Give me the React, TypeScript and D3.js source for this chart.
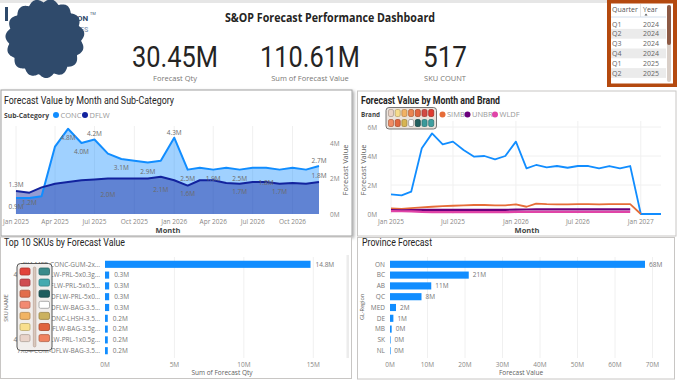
import React from "react";
import * as d3 from "d3";

const BLUE = "#118DFF";
const NAVY = "#12239E";
const DIN = "Roboto, 'DejaVu Sans', sans-serif";
const UI = "'Open Sans', 'Noto Sans', sans-serif";
const AXIS = "#8a8886";
const TITLE = "#252423";

// ---------- data ----------
const dashboardTitle = "S&OP Forecast Performance Dashboard";
const kpiValues = ["30.45M", "110.61M", "517"];
const kpiLabels = ["Forecast Qty", "Sum of Forecast Value", "SKU COUNT"];

const slicerQuarters = ["Q1", "Q2", "Q3", "Q4", "Q1", "Q2"];
const slicerYears = ["2024", "2024", "2024", "2024", "2025", "2025"];

const subCategories = ["CONC", "DFLW"];
const concValues = [0.9, 0.9, 1.0, 3.8, 4.8, 4.0, 4.2, 3.4, 3.1, 3.0, 2.9, 3.0, 4.3, 2.5, 2.6, 2.5, 2.6, 2.5, 2.6, 2.6, 2.5, 2.6, 2.5, 2.7];
const dflwValues = [1.3, 1.2, 1.5, 1.7, 1.8, 1.9, 1.95, 2.0, 2.0, 2.0, 2.0, 2.1, 1.9, 1.6, 1.9, 1.9, 1.75, 1.7, 1.8, 1.8, 1.7, 1.75, 1.7, 1.8];
// which points carry a data label, and on which side
const concLabels = [
  { i: 0, dy: 11 }, { i: 4, dy: 11 }, { i: 5, dy: 11 }, { i: 6, dy: -3 }, { i: 8, dy: 11 },
  { i: 10, dy: 11 }, { i: 12, dy: -3 }, { i: 13, dy: 11 }, { i: 17, dy: 11 }, { i: 23, dy: -3 },
];
const dflwLabels = [
  { i: 0, dy: -4 }, { i: 1, dy: 12 }, { i: 7, dy: 18 }, { i: 11, dy: 15 }, { i: 13, dy: 10 },
  { i: 15, dy: 1 }, { i: 17, dy: 10 }, { i: 19, dy: 3 }, { i: 20, dy: 10 }, { i: 23, dy: -4 },
];

const brandNames = ["SIMB", "UNBR", "WLDF"];
const brandColors = ["#E66C37", "#6B007B", "#E044A7"];
const brandMain = [1.36, 1.29, 1.54, 4.53, 5.56, 4.8, 4.99, 4.41, 3.95, 4.0, 3.77, 4.0, 4.99, 3.15, 3.38, 3.22, 3.31, 3.19, 3.31, 3.31, 3.15, 3.31, 3.15, 3.31, 0, 0, 0];
const brandSIMB = [0.38, 0.36, 0.4, 0.45, 0.5, 0.55, 0.57, 0.6, 0.62, 0.62, 0.6, 0.6, 0.66, 0.5, 0.72, 0.68, 0.67, 0.67, 0.68, 0.68, 0.67, 0.68, 0.68, 0.68, 0, null, null];
const brandUNBR = [0.27, 0.26, 0.27, 0.28, 0.28, 0.28, 0.28, 0.29, 0.29, 0.29, 0.29, 0.29, 0.3, 0.31, 0.32, 0.32, 0.32, 0.32, 0.32, 0.32, 0.32, 0.32, 0.32, 0.32, null, null, null];
const brandWLDF = [0.2, 0.19, 0.18, 0.14, 0.13, 0.13, 0.13, 0.13, 0.13, 0.13, 0.13, 0.13, 0.14, 0.15, 0.15, 0.15, 0.15, 0.15, 0.15, 0.15, 0.15, 0.15, 0.15, 0.15, null, null, null];

const skuNames = [
  "4X4-MFR-CONC-GUM-2x...", "4X4-MFR-DFLW-PRL-5x0.3g...", "4X4-MFR-DFLW-PRL-5x0.5...",
  "4X4-MFR-DFLW-PRL-5x0...", "4X4-MFR-DFLW-BAG-3.5...", "4X4-MFR-CONC-LHSH-3.5...",
  "4X4-MFR-DFLW-BAG-3.5g...", "4X4-MFR-DFLW-PRL-1x0.5g...", "7X04-COM-DFLW-BAG-3.5...",
];
const skuQty = [14.8, 0.3, 0.3, 0.3, 0.3, 0.2, 0.2, 0.2, 0.2];
const skuTicks = [0, 5, 10, 15];

const provinces = ["ON", "BC", "AB", "QC", "MED", "DE", "MB", "SK", "NL"];
const provinceValues = [68, 21, 11, 8.4, 1.6, 0.9, 0.45, 0.12, 0.08];
const provinceTicks = [0, 10, 20, 30, 40, 50, 60, 70];

const paletteRow1 = ["#e9d2c4", "#f6dc8c", "#f2b265", "#ea8450", "#e2653f", "#d24a43", "#e03a2f"];
const paletteRow2 = ["#f08c64", "#e2673f", "#d7b552", "#ffffff", "#22605f", "#3b9a9b", "#3f9fa0"];
const paletteColL = ["#e2433a", "#cf4c52", "#e26e4c", "#f28a72", "#f1b464", "#f8df8e", "#e9d3c9"];
const paletteColR = ["#3a8a8a", "#44aab0", "#1e5d5e", "#ffffff", "#cbb15e", "#e0643f", "#f08360"];

// ---------- helpers ----------
const fmtM = (v: number) => d3.format(".1f")(v) + "M";

function Panel({ x, y, w, h, shadow }: any) {
  return (
    <rect x={x} y={y} width={w} height={h} fill="#fff" stroke={shadow ? "#a0a0a0" : "#c8c6c4"} strokeWidth={1}
      filter={shadow ? "url(#sh)" : undefined} />
  );
}

function Swatch({ x, y, w, h, c }: any) {
  const border = c === "#ffffff" ? "#999" : (d3.color(c) as any).darker(0.8).formatHex();
  return <rect x={x} y={y} width={w} height={h} rx={1.5} fill={c} stroke={border} strokeWidth={0.8} />;
}

export default function App() {
  // ---------- header ----------
  const blobPts = d3.range(0, Math.PI * 2, Math.PI / 160);
  const blob = d3
    .lineRadial<number>()
    .angle((a) => a)
    .radius((a) => 36 + 3.6 * Math.abs(Math.sin(7.5 * a + 0.3)))
    .curve(d3.curveLinearClosed)(blobPts) as string;
  const kpiX = [175, 310, 445];
  const kpiW = [86, 100, 44];

  // ---------- left chart ----------
  const monthsL = d3.timeMonth.range(new Date(2025, 0, 1), new Date(2027, 0, 1));
  const xL = d3.scaleTime().domain([monthsL[0], monthsL[monthsL.length - 1]]).range([16, 319]);
  const yL = d3.scaleLinear().domain([0, 5]).range([214, 125.25]);
  const areaL = d3.area<number>().x((_, i) => xL(monthsL[i])).y0(yL(0)).y1((d) => yL(d));
  const lineL = d3.line<number>().x((_, i) => xL(monthsL[i])).y((d) => yL(d));
  const ticksL = xL.ticks(d3.timeMonth.every(3) as any);
  const fmtMonth = d3.timeFormat("%b %Y");

  // ---------- right chart ----------
  const monthsR = d3.timeMonth.range(new Date(2025, 0, 1), new Date(2027, 3, 1));
  const xR = d3.scaleTime().domain([monthsR[0], monthsR[monthsR.length - 1]]).range([391, 661]);
  const yR = d3.scaleLinear().domain([0, 6.5]).range([214, 119.75]);
  const lineR = d3
    .line<number | null>()
    .defined((d) => d !== null)
    .x((_, i) => xR(monthsR[i]))
    .y((d) => yR(d as number));
  const ticksR = xR.ticks(d3.timeMonth.every(6) as any);
  const brandSeries = [brandSIMB, brandUNBR, brandWLDF];

  // ---------- bottom-left ----------
  const ySku = d3.scaleBand<string>().domain(skuNames).range([258.9, 356.1]).paddingInner(0.34).paddingOuter(0.17);
  const xSku = d3.scaleLinear().domain([0, 15]).range([105, 313.3]);

  // ---------- bottom-right ----------
  const yProv = d3.scaleBand<string>().domain(provinces).range([258.9, 356.1]).paddingInner(0.34).paddingOuter(0.17);
  const xProv = d3.scaleLinear().domain([0, 70]).range([390, 652.5]);

  return (
    <div style={{ position: "fixed", left: 0, top: 0, width: 680, height: 380, background: "#fff" }}>
      <svg width={680} height={380} viewBox="0 0 680 380" style={{ display: "block" }}>
        <defs>
          <filter id="sh" x="-5%" y="-5%" width="110%" height="115%">
            <feDropShadow dx="1.5" dy="1.5" stdDeviation="1.5" floodColor="#000" floodOpacity="0.35" />
          </filter>
        </defs>
        <rect x={0} y={0} width={680} height={380} fill="#fff" />
        <rect x={0} y={0} width={607} height={3} fill="#e6e6e6" />

        {/* logo */}
        <rect x={5} y={7} width={3} height={14} fill="#2f4a6b" />
        <text x={77} y={21} fontFamily={DIN} fontWeight={700} fontSize={8} fill="#2f4a6b">ON</text>
        <text x={90} y={15} fontFamily={UI} fontSize={4} fill="#2f4a6b">TM</text>
        <text x={80} y={32} fontFamily={DIN} fontWeight={700} fontSize={7} fill="#8ea3bb">ES</text>
        <path d={blob} transform="translate(45,38.5)" fill="#2f4a6b" />

        {/* title & KPIs */}
        <text x={330} y={22} textAnchor="middle" fontFamily={UI} fontWeight={700} fontSize={12} fill={TITLE}
          textLength={210} lengthAdjust="spacingAndGlyphs">{dashboardTitle}</text>
        {kpiValues.map((v, i) => (
          <g key={v}>
            <text x={kpiX[i]} y={67} textAnchor="middle" fontFamily={DIN} fontSize={29.5} fill="#252423"
              textLength={kpiW[i]} lengthAdjust="spacingAndGlyphs">{v}</text>
            <text x={kpiX[i]} y={80.5} textAnchor="middle" fontFamily={UI} fontSize={7.5} fill="#7a7876">{kpiLabels[i]}</text>
          </g>
        ))}

        {/* slicer */}
        <rect x={607} y={0} width={70} height={87} fill="#b4490f" />
        <rect x={611} y={3.5} width={62} height={80} fill="#fff" />
        <text x={612} y={12} fontFamily={UI} fontSize={7} fill="#555">Quarter</text>
        <text x={643} y={12} fontFamily={UI} fontSize={7} fill="#555">Year</text>
        <path d="M644.5,15.5 l1.5,-2 l1.5,2 z" fill="#555" />
        <line x1={640.5} y1={4} x2={640.5} y2={17} stroke="#ddd" strokeWidth={0.8} />
        <line x1={611} y1={17} x2={666} y2={17} stroke="#c8d6e6" strokeWidth={0.8} />
        {slicerQuarters.map((q, i) => {
          const cy = 24 + i * 9.8;
          return (
            <g key={i}>
              {i % 2 === 1 && <rect x={611} y={cy - 4.9} width={55} height={9.8} fill="#ebebeb" />}
              <text x={612} y={cy + 2.6} fontFamily={UI} fontSize={7} fill="#666">{q}</text>
              <text x={643} y={cy + 2.6} fontFamily={UI} fontSize={7} fill="#666">{slicerYears[i]}</text>
            </g>
          );
        })}
        <rect x={667} y={5} width={4} height={77} rx={2} fill="#d9cfc8" />
        <rect x={667} y={5} width={4} height={40} rx={2} fill="#8d5a45" />

        {/* ---------- panels ---------- */}
        <Panel x={1} y={90} w={351} h={146} shadow />
        <Panel x={357.5} y={91} w={318.5} h={145} />
        <Panel x={0.5} y={237} w={351} h={141.5} />
        <Panel x={357.5} y={237.5} w={317} h={141.5} />

        {/* ---------- left chart ---------- */}
        <text x={4} y={104} fontFamily={DIN} fontSize={10.5} fill={TITLE} textLength={170} lengthAdjust="spacingAndGlyphs">
          Forecast Value by Month and Sub-Category
        </text>
        <text x={4} y={117.5} fontFamily={UI} fontWeight={700} fontSize={7.5} fill="#444" textLength={45} lengthAdjust="spacingAndGlyphs">Sub-Category</text>
        {subCategories.map((s, i) => (
          <g key={s}>
            <circle cx={[56, 85][i]} cy={115} r={3} fill={[BLUE, NAVY][i]} />
            <text x={[60.5, 89.5][i]} y={117.5} fontFamily={UI} fontSize={7.5} fill="#999">{s}</text>
          </g>
        ))}
        {ticksL.map((t) => (
          <g key={+t}>
            <line x1={xL(t)} x2={xL(t)} y1={126} y2={214} stroke="#f0f0f0" strokeWidth={1} />
            <text x={xL(t)} y={223.5} textAnchor="middle" fontFamily={UI} fontSize={6.5} fill={AXIS}>{fmtMonth(t)}</text>
          </g>
        ))}
        <path d={areaL(concValues) as string} fill={BLUE} fillOpacity={0.4} />
        <path d={areaL(dflwValues) as string} fill={NAVY} fillOpacity={0.45} />
        <path d={lineL(concValues) as string} fill="none" stroke={BLUE} strokeWidth={2} strokeLinejoin="round" />
        <path d={lineL(dflwValues) as string} fill="none" stroke={NAVY} strokeWidth={2} strokeLinejoin="round" />
        {concLabels.map((l) => (
          <text key={"c" + l.i} x={xL(monthsL[l.i])} y={yL(concValues[l.i]) + l.dy} textAnchor="middle"
            fontFamily={UI} fontSize={6.5} fill="#6b6b6b">{fmtM(concValues[l.i])}</text>
        ))}
        {dflwLabels.map((l) => (
          <text key={"d" + l.i} x={xL(monthsL[l.i])} y={yL(dflwValues[l.i]) + l.dy} textAnchor="middle"
            fontFamily={UI} fontSize={6.5} fill="#6b6b6b">{fmtM(dflwValues[l.i])}</text>
        ))}
        {[0, 2, 4].map((v) => (
          <text key={v} x={330} y={yL(v) + 2.5} fontFamily={UI} fontSize={6.5} fill={AXIS}>{v}M</text>
        ))}
        <text transform="translate(348,170) rotate(-90)" textAnchor="middle" fontFamily={UI} fontSize={7.5} fill="#605e5c">
          Forecast Value
        </text>
        <text x={168} y={232.5} textAnchor="middle" fontFamily={UI} fontWeight={700} fontSize={7.5} fill="#444">Month</text>

        {/* ---------- right chart ---------- */}
        <text x={361} y={104} fontFamily={DIN} fontWeight={700} fontSize={10.5} fill={TITLE} textLength={139} lengthAdjust="spacingAndGlyphs">
          Forecast Value by Month and Brand
        </text>
        <text x={361} y={117} fontFamily={UI} fontWeight={700} fontSize={7.5} fill="#444" textLength={19} lengthAdjust="spacingAndGlyphs">Brand</text>
        {brandNames.map((b, i) => (
          <g key={b}>
            <circle cx={[442.5, 467.5, 495][i]} cy={114.5} r={3} fill={brandColors[i]} />
            <text x={[447, 472, 499.5][i]} y={117} fontFamily={UI} fontSize={7.5} fill="#999">{b}</text>
          </g>
        ))}
        {[2, 4, 6].map((v) => (
          <line key={v} x1={391} x2={661} y1={yR(v)} y2={yR(v)} stroke="#f0f0f0" strokeWidth={1} />
        ))}
        {ticksR.map((t) => (
          <g key={+t}>
            <line x1={xR(t)} x2={xR(t)} y1={121} y2={214} stroke="#f0f0f0" strokeWidth={1} />
            <text x={xR(t)} y={223.5} textAnchor="middle" fontFamily={UI} fontSize={6.5} fill={AXIS}>{fmtMonth(t)}</text>
          </g>
        ))}
        {[0, 2, 4, 6].map((v) => (
          <text key={v} x={377} y={yR(v) + 2.5} textAnchor="end" fontFamily={UI} fontSize={6.5} fill={AXIS}>{v}M</text>
        ))}
        <text transform="translate(366,170) rotate(-90)" textAnchor="middle" fontFamily={UI} fontSize={7.5} fill="#605e5c">
          Forecast Value
        </text>
        <text x={527} y={232.5} textAnchor="middle" fontFamily={UI} fontWeight={700} fontSize={7.5} fill="#444">Month</text>
        <path d={lineR(brandMain) as string} fill="none" stroke={BLUE} strokeWidth={1.8} strokeLinejoin="round" />
        {brandSeries.map((s, i) => (
          <path key={i} d={lineR(s) as string} fill="none" stroke={brandColors[i]} strokeWidth={i === 0 ? 1.8 : 2.2} strokeLinejoin="round" />
        ))}
        {/* palette sticker over the legend */}
        <rect x={386} y={107.5} width={50.5} height={21.5} rx={3} fill="#ebe3dc" stroke="#555" strokeWidth={0.8} />
        {paletteRow1.map((c, i) => (
          <Swatch key={"r1" + i} x={388.5 + i * 6.7} y={109.5} w={5} h={7} c={c} />
        ))}
        {paletteRow2.map((c, i) => (
          <Swatch key={"r2" + i} x={388.5 + i * 6.7} y={119.5} w={5} h={7} c={c} />
        ))}

        {/* ---------- bottom-left ---------- */}
        <text x={4} y={246} fontFamily={DIN} fontSize={10.5} fill={TITLE} textLength={121} lengthAdjust="spacingAndGlyphs">
          Top 10 SKUs by Forecast Value
        </text>
        {skuTicks.map((v) => (
          <g key={v}>
            {v > 0 && <line x1={xSku(v)} x2={xSku(v)} y1={257} y2={358} stroke="#f0f0f0" strokeWidth={1} />}
            <text x={xSku(v)} y={366.5} textAnchor="middle" fontFamily={UI} fontSize={6.5} fill={AXIS}>{v}M</text>
          </g>
        ))}
        {skuNames.map((s, i) => (
          <g key={s}>
            <text x={100} y={(ySku(s) as number) + ySku.bandwidth() / 2 + 2.3} textAnchor="end" fontFamily={UI} fontSize={6.5} fill="#777">{s}</text>
            <rect x={xSku(0)} y={ySku(s)} width={xSku(skuQty[i]) - xSku(0)} height={ySku.bandwidth()} fill={BLUE} />
            <text x={xSku(skuQty[i]) + 5} y={(ySku(s) as number) + ySku.bandwidth() / 2 + 2.3} fontFamily={UI} fontSize={6.5} fill="#777">
              {fmtM(skuQty[i])}
            </text>
          </g>
        ))}
        <text transform="translate(8,308) rotate(-90)" textAnchor="middle" fontFamily={UI} fontSize={5.5} fill="#605e5c">SKU NAME</text>
        <text x={222} y={374.5} textAnchor="middle" fontFamily={UI} fontSize={6.5} fill="#605e5c">Sum of Forecast Qty</text>
        <rect x={346.5} y={255} width={2.5} height={103} fill="#ececec" />
        {/* palette sticker over the labels */}
        <rect x={17} y={263.5} width={35} height={87} rx={3.5} fill="#f1eeec" stroke="#444" strokeWidth={0.9} />
        <rect x={33.3} y={267} width={2.6} height={80} rx={1.3} fill="#d8c8bd" stroke="#a88f80" strokeWidth={0.5} />
        {paletteColL.map((c, i) => (
          <Swatch key={"cl" + i} x={20} y={268 + i * 11.1} w={10} h={7} c={c} />
        ))}
        {paletteColR.map((c, i) => (
          <Swatch key={"cr" + i} x={39} y={268 + i * 11.1} w={10.5} h={7} c={c} />
        ))}

        {/* ---------- bottom-right ---------- */}
        <text x={362} y={246} fontFamily={DIN} fontSize={10.5} fill={TITLE} textLength={70} lengthAdjust="spacingAndGlyphs">
          Province Forecast
        </text>
        {provinceTicks.map((v) => (
          <g key={v}>
            {v > 0 && <line x1={xProv(v)} x2={xProv(v)} y1={257} y2={358} stroke="#f0f0f0" strokeWidth={1} />}
            <text x={xProv(v)} y={366.5} textAnchor="middle" fontFamily={UI} fontSize={6.5} fill={AXIS}>{v}M</text>
          </g>
        ))}
        {provinces.map((p, i) => (
          <g key={p}>
            <text x={385} y={(yProv(p) as number) + yProv.bandwidth() / 2 + 2.3} textAnchor="end" fontFamily={UI} fontSize={6.5} fill="#777">{p}</text>
            <rect x={xProv(0)} y={yProv(p)} width={Math.max(0.6, xProv(provinceValues[i]) - xProv(0))} height={yProv.bandwidth()} fill={BLUE} />
            <text x={xProv(provinceValues[i]) + 4} y={(yProv(p) as number) + yProv.bandwidth() / 2 + 2.3} fontFamily={UI} fontSize={6.5} fill="#777">
              {d3.format(".0f")(provinceValues[i])}M
            </text>
          </g>
        ))}
        <text transform="translate(364,307) rotate(-90)" textAnchor="middle" fontFamily={UI} fontSize={5.5} fill="#605e5c">GL-Region</text>
        <text x={521} y={374.5} textAnchor="middle" fontFamily={UI} fontSize={6.5} fill="#605e5c">Forecast Value</text>
      </svg>
    </div>
  );
}
